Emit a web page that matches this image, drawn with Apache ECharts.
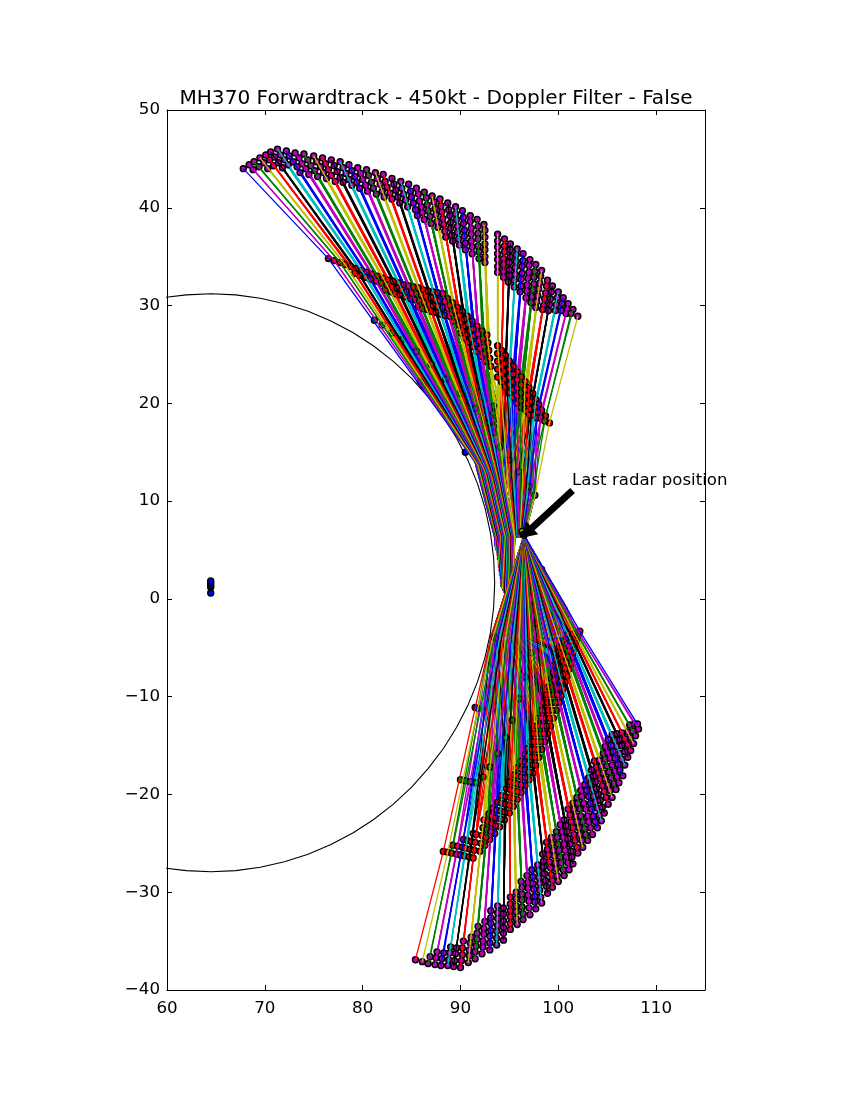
<!DOCTYPE html>
<html><head><meta charset="utf-8">
<style>html,body{margin:0;padding:0;background:#fff}#c{width:850px;height:1100px}</style>
<script src="https://cdn.jsdelivr.net/npm/echarts@6/dist/echarts.min.js"></script>
</head><body><div id="c"></div>
<script>
const chartTitle='MH370 Forwardtrack - 450kt - Doppler Filter - False';
const annotationText='Last radar position';
const annotationAt=[101.41,12.05];
const arrowTail=[101.46,11.09];
const arrowTip=[96.2,6.24];
const radarPoint=[96.5,6.5];
const xTicks=[60,115,10];
const yTicks=[-40,50,10];
const lineCycle=['#0000ff','#bf00bf','#008000','#bfbf00','#ff0000','#000000','#00bfbf'];
const rowShift=[0,-3,3,-6,6,-9,9,-12];

// Circle of equal satellite elevation
const circleLine=[[59.9,30.85],[61.97,31.09],[64.5,31.2],[67.03,31.09],[69.53,30.75],[72.01,30.19],[74.42,29.42],[76.76,28.43],[79,27.24],[81.13,25.86],[83.14,24.29],[85.01,22.55],[86.71,20.64],[88.26,18.6],[89.61,16.43],[90.78,14.14],[91.75,11.76],[92.51,9.3],[93.06,6.78],[93.39,4.23],[93.5,1.65],[93.39,-0.93],[93.06,-3.48],[92.51,-6],[91.75,-8.46],[90.78,-10.84],[89.61,-13.13],[88.26,-15.3],[86.71,-17.34],[85.01,-19.25],[83.14,-20.99],[81.13,-22.56],[79,-23.94],[76.76,-25.13],[74.42,-26.12],[72.01,-26.89],[69.53,-27.45],[67.03,-27.79],[64.5,-27.9],[61.97,-27.79],[59.9,-27.55]];

// Sub-satellite points
const satellitePoints=[64.47,0.6,64.47,1.2,64.47,1.4,64.47,1.65,64.47,1.84];

// North fan: per track, flat lon,lat pairs
const northRed=[76.5,34.8,77.1,34.6,77.7,34.4,78.2,34.2,78.8,34,79.3,33.8,79.9,33.6,80.4,33.4,81,33.2,81.5,33,82.1,32.8,82.6,32.6,83.1,32.5,83.7,32.3,84.2,32.1,84.7,32,85.2,31.9,85.7,31.8,86.2,31.6,86.7,31.5,87.2,31.4,87.7,31.3,88.2,31.2,88.7,30.7,89.2,30.3,89.7,29.8,90.2,29.4,90.7,28.9,91.2,28.4,91.7,27.9,92.2,27.4,92.7,27,93.8,25.9,94.2,25.4,94.6,24.9,95,24.3,95.4,23.8,95.8,23.2,96.2,22.7,96.6,22.2,97,21.6,97.4,21,97.7,20.4,98,19.9,98.3,19.3,98.7,18.7,99.1,18];
const northMid=[91.5,14,91.6,13.9,91.7,13.8,91.8,13.7,91.9,13.7,92,13.6,92.1,13.5,92.2,13.4,92.3,13.3,92.4,13.3,92.5,13.2,92.6,13.1,92.7,13,92.8,12.9,92.9,12.9,93,12.8,93.1,12.7,93.2,12.6,93.3,12.5,93.4,12.5,93.5,12.4,93.6,12.3,93.7,12.2,93.8,12.1,93.9,12.1,94,12,94.1,11.9,94.2,11.8,94.3,11.7,94.4,11.7,94.5,11.6,94.6,11.5,94.9,11.4,95.1,11.3,95.3,11.3,95.5,11.2,95.7,11.1,95.9,11.1,96.1,11,96.3,10.9,96.5,10.9,96.7,10.8,96.8,10.8,97,10.7,97.2,10.6,97.4,10.6,97.6,10.5];
const northWaistLon=[93.5,93.55,93.6,93.7,93.75,93.8,93.9,93.95,94,94.1,94.15,94.2,94.3,94.35,94.4,94.5,94.55,94.6,94.7,94.75,94.8,94.9,94.95,95,95.1,95.15,95.2,95.3,95.35,95.4,95.5,95.55,95.6,95.7,95.75,95.8,95.9,95.95,96,96.1,96.15,96.2,96.3,96.3,96.4,96.4,96.5];
const northWaistLat=6.3;
const northTail=[93.5,5.5,93.55,5.4,93.6,5.3,93.6,5.2,93.65,5.1,93.7,5,93.7,4.9,93.75,4.7,93.8,4.4,93.85,4,93.9,3.6,93.95,3.2,94,2.8,94.05,2.4,94.1,2,94.15,1.6,94.2,1.2,94.3,1,94.4,0.8,94.5,0.6,94.6,0.4,94.7,0.2,94.8,0,94.85,0,94.9,0,95,0,95.05,0,95.1,0,95.15,0,95.2,0,95.25,0,95.3,0];
const northWidths=[1.3,1.3,1.4,1.8,2,2.2,2.4,2.6,2.8,2.8,2.8,2.8,2.8,2.8,2.8,2.8,2.8,2.6,2.6,2.6,2.4,2.4,2.2,2.2,2,2,1.8,1.8,1.6,1.6,1.5,1.5,1.6,1.5,1.5,1.5,1.5,1.5,1.5,1.5,1.4,1.4,1.4,1.4,1.4,1.4,1.4];

// North magenta lattice, column after column, and points per column
const northMagenta=[67.8,44,68.4,44.4,68.8,43.9,68.9,44.7,69.4,44.2,69.5,45.1,69.9,44.6,70.3,44,70.1,45.4,70.5,44.9,70.9,44.3,70.6,45.7,71,45.2,71.4,44.6,71.8,44.1,71.3,46,71.6,45.4,72,44.9,72.4,44.4,72.2,45.8,72.5,45.3,72.9,44.7,73.3,44.2,73.6,43.6,73.1,45.6,73.5,45.1,73.8,44.5,74.2,44,74.5,43.4,74,45.5,74.4,44.9,74.7,44.3,75.1,43.8,75.4,43.2,75,45.3,75.3,44.7,75.7,44.2,76,43.6,76.3,43,75.9,45.1,76.2,44.5,76.5,43.9,76.8,43.3,77.2,42.7,76.8,44.9,77.1,44.3,77.4,43.7,77.7,43.1,78,42.6,77.7,44.7,78,44.1,78.3,43.5,78.6,42.9,78.9,42.3,78.6,44.4,78.9,43.8,79.2,43.2,79.4,42.6,79.7,42,79.5,44.1,79.8,43.5,80,42.9,80.3,42.3,80.5,41.7,80.4,43.9,80.6,43.3,80.9,42.6,81.1,42,81.4,41.4,81.3,43.6,81.5,43,81.8,42.4,82,41.7,82.2,41.1,82.1,43.4,82.3,42.7,82.5,42.1,82.8,41.5,83,40.9,83,43,83.2,42.4,83.4,41.8,83.6,41.1,83.8,40.5,83.9,42.7,84,42,84.2,41.4,84.4,40.8,84.6,40.1,84.7,42.4,84.9,41.7,85,41.1,85.2,40.5,85.4,39.8,85.6,39.2,85.5,42,85.7,41.4,85.8,40.7,86,40.1,86.1,39.5,86.3,38.8,86.3,41.6,86.5,41,86.6,40.3,86.7,39.7,86.9,39.1,87,38.4,87.1,41.2,87.3,40.6,87.4,39.9,87.5,39.3,87.6,38.6,87.7,38,87.9,40.9,88,40.2,88.1,39.6,88.2,38.9,88.3,38.3,88.4,37.6,88.5,37,88.7,40.5,88.8,39.8,88.9,39.2,89,38.5,89,37.9,89.1,37.2,89.2,36.6,89.5,40.1,89.5,39.4,89.6,38.8,89.7,38.1,89.7,37.5,89.8,36.8,89.9,36.2,90.2,39.7,90.3,39,90.3,38.4,90.4,37.7,90.4,37.1,90.5,36.4,90.5,35.7,91,39.2,91,38.6,91.1,37.9,91.1,37.3,91.1,36.6,91.2,36,91.2,35.3,91.7,38.8,91.8,38.1,91.8,37.4,91.8,36.8,91.8,36.1,91.9,35.5,91.9,34.8,92.4,38.3,92.5,37.7,92.5,37,92.5,36.3,92.5,35.7,92.5,35,92.5,34.4,93.8,37.3,93.8,36.6,93.8,36,93.8,35.3,93.8,34.7,93.8,34,93.8,33.4,94.5,36.8,94.5,36.1,94.5,35.5,94.4,34.8,94.4,34.2,94.4,33.5,94.4,32.9,95.1,36.3,95.1,35.7,95.1,35,95,34.4,95,33.7,95,33.1,94.9,32.4,95.8,35.8,95.7,35.2,95.7,34.5,95.6,33.9,95.6,33.2,95.5,32.6,95.5,31.9,96.4,35.3,96.4,34.6,96.3,34,96.3,33.3,96.2,32.7,96.2,32,96.1,31.4,97.1,34.7,97,34.1,97,33.4,96.9,32.8,96.8,32.1,96.8,31.5,96.7,30.8,97.7,34.2,97.6,33.5,97.5,32.9,97.5,32.2,97.4,31.6,97.3,30.9,97.2,30.3,98.3,33.6,98.2,33,98.1,32.3,98,31.7,97.9,31,97.8,30.4,97.7,29.8,98.9,32.6,98.8,32,98.7,31.3,98.6,30.7,98.5,30,98.4,29.6,99.4,32,99.3,31.4,99.2,30.7,99.1,30.1,99,29.5,100,31.4,99.9,30.8,99.8,30.1,99.7,29.5,100.5,30.8,100.4,30.2,100.3,29.5,101,30.2,100.9,29.6,100.8,29.2,101.5,29.6,101.3,29.2,102,28.9];
const northMagentaCounts=[1,2,2,3,3,4,4,5,5,5,5,5,5,5,5,5,5,5,5,5,5,6,6,6,6,7,7,7,7,7,7,7,7,7,7,7,7,7,7,7,6,5,4,3,3,2,1];
// North red lattice, rows behind the track waypoints, and points per column
const northRedRows=[79.2,33.3,79.7,33.1,80.3,32.9,80.8,32.7,81.4,32.5,81.9,32.3,82.3,31.6,82.5,32.1,82.9,31.4,83,31.9,83.3,31.2,83.5,31.8,83.8,31.1,84,31.6,84.4,30.9,84.5,31.4,84.9,30.7,85,31.3,85.4,30.6,85.7,29.9,85.5,31.2,85.8,30.5,86.1,29.7,86,31.1,86.3,30.3,86.6,29.6,86.5,30.9,86.8,30.1,87,29.4,87,30.8,87.2,30,87.5,29.3,87.5,30.6,87.7,29.9,88,29.1,87.9,30.5,88.2,29.8,88.4,29,88.4,30.4,88.7,29.7,88.9,28.9,88.9,30,89.1,29.2,89.3,28.4,89.4,29.5,89.6,28.8,89.8,28,90,27.2,89.9,29,90.1,28.3,90.2,27.5,90.4,26.7,90.4,28.6,90.5,27.9,90.7,27.1,90.8,26.3,90.8,28.1,91,27.4,91.1,26.6,91.3,25.8,91.3,27.6,91.4,26.9,91.6,26.1,91.7,25.3,91.8,27.1,91.9,26.4,92,25.6,92.1,24.8,92.3,26.6,92.4,25.8,92.5,25.1,92.6,24.3,92.8,26.2,92.9,25.4,93,24.6,93.1,23.8,93.8,25.1,93.8,24.3,93.8,23.5,93.8,22.7,94.2,24.6,94.2,23.8,94.2,23,94.2,22.2,94.6,24.1,94.6,23.3,94.6,22.5,94.6,21.7,95,23.5,95,22.7,95,21.9,95,21.1,95.4,23,95.4,22.2,95.4,21.4,95.4,20.6,95.8,22.4,95.8,21.6,95.8,20.8,95.8,20,96.2,21.9,96.2,21.1,96.2,20.3,96.2,19.6,96.6,21.4,96.6,20.6,96.6,19.8,96.6,19.4,96.9,20.8,96.9,20,96.8,19.2,97.3,20.2,97.2,19.4,97.1,18.8,97.6,19.6,97.5,18.8,97.9,19.1,97.8,18.5,98.2,18.5,98.6,18.2];
const northRedCounts=[0,0,0,0,1,1,1,1,1,2,2,2,2,2,2,3,3,3,3,3,3,3,3,3,4,4,4,4,4,4,4,4,4,4,4,4,4,4,4,4,3,3,2,2,1,1,0];

// South fan: per track from the west, flat lon,lat pairs
const southRed=[88.25,-25.83,88.7,-25.9,89.1,-26,89.6,-26.1,90,-26.2,90.4,-26.3,90.9,-26.4,91.3,-26.5,92,-25.8,92.5,-25.2,93,-24.6,93.5,-24,94,-23.3,94.5,-22.6,95,-21.9,95.4,-21.2,95.8,-20.5,96.2,-19.8,96.6,-19.1,97,-18.5,97.4,-17.8,97.7,-17,98,-16.2,98.3,-15.4,98.6,-14.6,98.9,-13.8,99.2,-13,99.5,-12.2,99.8,-11.4,100.1,-10.6,100.3,-9.9,100.5,-9.2,100.7,-8.5,100.9,-7.9,101.1,-7.2,101.3,-6.6,101.4,-6,101.5,-5.5,101.6,-5,101.7,-4.6,101.8,-4.3,101.9,-4,102,-3.7,102.1,-3.5,102.2,-3.3];
const southMid=[93.1,-4,93.3,-4,93.5,-4,93.7,-4,93.8,-4,94,-4,94.2,-4,94.4,-4,94.6,-4,94.8,-4,95,-4,95.2,-4,95.4,-4,95.6,-4,95.8,-4,96,-4,96.2,-4,96.4,-4,96.6,-4,96.7,-4,96.9,-4,97,-4,97.2,-4,97.4,-4,97.6,-4,97.8,-4,98,-4,98.2,-4,98.4,-4,98.7,-4,98.9,-4,99.2,-4,99.4,-4,99.7,-4,100,-4,99.25,-1,99.44,-1,99.6,-1,99.8,-1,100,-1,100.2,-1,100.36,-1,100.5,-1,100.7,-1,100.9,-1];
const southWidths=[1.4,1.4,1.4,1.4,1.4,1.4,1.4,1.4,1.4,1.4,1.4,1.4,1.4,1.4,1.4,1.5,1.5,1.5,1.6,1.6,1.8,1.8,1.8,2,2,2,2.2,2.2,2.4,2.6,2.6,2.6,2.8,2.8,2.8,2.8,2.8,2.8,2.6,2.4,2.2,2,1.8,1.5,1.4];

// South magenta lattice, column after column, and points per column
const southMagenta=[85.4,-36.9,86.1,-37.1,86.7,-37.3,86.9,-36.6,87.4,-37.4,87.5,-36.7,87.6,-36.1,88,-37.5,88.1,-36.8,88.3,-36.2,88.7,-37.5,88.8,-36.9,88.9,-36.2,89,-35.6,89.3,-37.6,89.4,-37,89.5,-36.3,89.6,-35.7,90,-37.7,90.1,-37,90.2,-36.4,90.2,-35.7,90.3,-35,90.8,-37.2,90.9,-36.5,90.9,-35.9,91,-35.2,91.1,-34.6,91.5,-36.8,91.5,-36.1,91.6,-35.5,91.7,-34.8,91.7,-34.2,91.8,-33.5,92.2,-36.3,92.3,-35.6,92.3,-35,92.4,-34.3,92.4,-33.7,92.5,-33,93,-35.9,93,-35.2,93,-34.5,93.1,-33.9,93.1,-33.2,93.1,-32.6,93.1,-31.9,93.7,-35.4,93.7,-34.7,93.7,-34,93.8,-33.4,93.8,-32.7,93.8,-32.1,93.8,-31.4,94.4,-34.9,94.4,-34.2,94.4,-33.6,94.4,-32.9,94.4,-32.2,94.4,-31.6,95.1,-33.8,95.1,-33.2,95.1,-32.5,95.1,-31.9,95.1,-31.2,95.1,-30.5,95.8,-33.3,95.7,-32.7,95.7,-32,95.7,-31.4,95.7,-30.7,95.7,-30,96.4,-32.8,96.4,-32.2,96.3,-31.5,96.3,-30.8,96.3,-30.2,96.3,-29.5,96.2,-28.9,97.1,-32.3,97,-31.6,97,-30.9,96.9,-30.3,96.9,-29.6,96.9,-29,96.8,-28.3,97.7,-31.7,97.6,-31,97.6,-30.4,97.5,-29.7,97.4,-29.1,97.4,-28.4,97.3,-27.7,98.3,-31.1,98.2,-30.5,98.1,-29.8,98.1,-29.1,98,-28.5,98,-27.8,97.9,-27.2,98.9,-30.1,98.8,-29.4,98.7,-28.8,98.6,-28.1,98.5,-27.4,98.5,-26.8,98.4,-26.1,99.4,-29.5,99.4,-28.8,99.3,-28.2,99.2,-27.5,99.1,-26.9,99,-26.2,98.9,-25.6,98.8,-24.9,100,-28.9,99.9,-28.3,99.8,-27.6,99.7,-27,99.6,-26.3,99.5,-25.7,99.4,-25,99.3,-24.4,100.6,-28.3,100.5,-27.7,100.3,-27,100.2,-26.4,100.1,-25.7,100,-25.1,99.9,-24.4,99.8,-23.8,101.1,-27.7,101,-27,100.8,-26.4,100.7,-25.7,100.6,-25.1,100.5,-24.4,100.4,-23.8,100.2,-23.1,101.5,-27.1,101.4,-26.4,101.3,-25.8,101.2,-25.1,101,-24.5,100.9,-23.8,100.8,-23.2,100.6,-22.6,102,-26,101.9,-25.4,101.7,-24.7,101.6,-24.1,101.5,-23.4,101.3,-22.8,101.2,-22.1,101,-21.5,102.5,-25.4,102.4,-24.7,102.2,-24.1,102.1,-23.4,101.9,-22.8,101.8,-22.2,101.6,-21.5,101.5,-20.9,103,-24.7,102.8,-24.1,102.7,-23.5,102.5,-22.8,102.3,-22.2,102.2,-21.5,102,-20.9,101.9,-20.3,103.5,-24.1,103.3,-23.4,103.1,-22.8,103,-22.2,102.8,-21.5,102.6,-20.9,102.4,-20.2,102.3,-19.6,104,-23.4,103.8,-22.8,103.6,-22.2,103.4,-21.5,103.3,-20.9,103.1,-20.2,102.9,-19.6,102.7,-19,104.4,-22.7,104.2,-22.1,104,-21.4,103.8,-20.8,103.6,-20.2,103.5,-19.5,103.3,-18.9,103.1,-18.3,104.7,-21.9,104.5,-21.3,104.3,-20.6,104.1,-20,103.9,-19.4,103.8,-18.7,103.6,-18.1,103.4,-17.5,105.1,-21,104.9,-20.3,104.7,-19.7,104.5,-19.1,104.3,-18.4,104.1,-17.8,103.9,-17.2,103.7,-16.6,105.5,-20.3,105.3,-19.6,105.1,-19,104.8,-18.4,104.6,-17.8,104.4,-17.1,104.2,-16.5,105.9,-19.5,105.7,-18.9,105.4,-18.3,105.2,-17.7,105,-17.1,104.8,-16.4,104.6,-15.8,106.2,-18.8,106,-18.2,105.8,-17.6,105.5,-17,105.3,-16.3,105.1,-15.7,104.8,-15.1,106.6,-18.1,106.3,-17.5,106.1,-16.9,105.8,-16.3,105.6,-15.6,105.4,-15,105.1,-14.4,106.8,-17,106.5,-16.4,106.3,-15.8,106,-15.1,105.8,-14.5,105.5,-13.9,107.1,-16.2,106.8,-15.6,106.5,-15,106.3,-14.4,106,-13.8,107.4,-15.5,107.1,-14.9,106.8,-14.3,106.5,-13.7,107.7,-14.8,107.4,-14.2,107.1,-13.6,107.9,-14,107.6,-13.5,107.3,-12.9,108.2,-13.3,107.8,-12.8,108.1,-12.8];
const southMagentaCounts=[1,1,2,3,3,4,4,5,5,6,6,7,7,6,6,6,7,7,7,7,7,8,8,8,8,8,8,8,8,8,8,8,8,8,7,7,7,7,6,5,4,3,3,2,1];
// South red lattice, rows behind the track waypoints, and points per column
const southRedRows=[89.2,-25.2,89.7,-25.3,90.2,-25.4,90.3,-24.6,90.5,-25.5,90.7,-24.7,91,-25.6,91.1,-24.8,91.3,-24,91.4,-25.7,91.5,-24.9,91.6,-24.1,92.1,-25,92.2,-24.2,92.3,-23.4,92.4,-22.6,92.6,-24.4,92.7,-23.6,92.8,-22.8,92.9,-22,93.1,-23.8,93.2,-23,93.2,-22.2,93.3,-21.4,93.6,-23.2,93.6,-22.4,93.7,-21.6,93.8,-20.8,94.1,-22.5,94.1,-21.7,94.2,-20.9,94.2,-20.1,94.5,-21.8,94.6,-21,94.6,-20.2,94.7,-19.4,95,-21.1,95.1,-20.3,95.1,-19.5,95.1,-18.7,95.4,-20.4,95.4,-19.6,95.5,-18.8,95.5,-18,95.8,-19.7,95.8,-18.9,95.8,-18.1,95.8,-17.3,96.2,-19,96.2,-18.2,96.2,-17.4,96.2,-16.6,96.6,-18.3,96.6,-17.5,96.6,-16.7,96.6,-15.9,97,-17.7,96.9,-16.9,96.9,-16.1,96.9,-15.3,97.4,-17,97.3,-16.2,97.3,-15.4,97.2,-14.6,97.6,-16.2,97.6,-15.4,97.5,-14.6,97.5,-13.8,97.9,-15.4,97.9,-14.6,97.8,-13.8,97.8,-13,98.2,-14.6,98.2,-13.8,98.1,-13,98,-12.2,98.5,-13.8,98.4,-13,98.3,-12.2,98.3,-11.4,98.8,-13,98.7,-12.2,98.6,-11.4,98.5,-10.6,99.1,-12.2,99,-11.4,98.9,-10.6,98.8,-9.8,99.4,-11.4,99.3,-10.6,99.1,-9.8,99,-9,99.7,-10.6,99.5,-9.8,99.4,-9,99.3,-8.2,99.9,-9.8,99.8,-9,99.6,-8.3,99.5,-7.5,100.1,-9.1,100,-8.3,99.8,-7.6,99.6,-6.8,100.3,-8.4,100.2,-7.7,100,-6.9,99.8,-6.2,100.5,-7.7,100.3,-7,100.1,-6.2,99.9,-5.5,100.7,-7.1,100.5,-6.4,100.3,-5.6,100.1,-4.9,100.8,-6.5,100.6,-5.8,100.4,-5,101,-5.9,100.8,-5.1,100.6,-4.4,101.1,-5.3,100.9,-4.6,101.2,-4.8,101,-4,101.3,-4.3,101,-3.6,101.4,-3.9,101.5,-3.6];
const southRedCounts=[0,0,1,1,2,2,3,3,4,4,4,4,4,4,4,4,4,4,4,4,4,4,4,4,4,4,4,4,4,4,4,4,4,4,3,3,2,2,2,1,1,0,0,0,0];

// Inner arcs
const greenArc=[81.2,28.5,82,28,83,27.2,84,26.5,85.5,25.3,87,24,88.5,22.5,90,21,91.5,19.5,92.8,18,93.4,19.7,93.4,19,93.4,18.3,93.4,17.6,93.4,17,94,15.5,95,14.2,96,13,97,11.5,97.6,10.6,90,-18.5,90.5,-18.6,91,-18.7,91.6,-18.8,92.3,-18.2,93,-17.2,93.8,-15.8,94.6,-14.2,95.3,-12.4,96,-10.2,96.6,-8,97.2,-5.5,97.7,-2.5,98.1,1.5,98.2,2.5,98.3,3];
const innerArc=[85.9,22.2,86.2,21.8,88.4,19,90.5,15,91.5,-11.1,91.8,-11.2,93.4,-3.9,93.6,-4];
const radarMarks=[96.3,6.9,96.4,6.6,96.5,6.5];

function pairs(a){const o=[];for(let i=0;i<a.length;i+=2)o.push([a[i],a[i+1]]);return o;}
function columns(list,counts){const p=pairs(list);let n=0;return counts.map(c=>{const col=p.slice(n,n+c);n+=c;return col;});}
function scatter(data,color,z){return {type:'scatter',z:z||2,data:pairs(data),symbolSize:5.9,silent:true,itemStyle:{color:color,borderColor:'#000',borderWidth:1.5,opacity:1},animation:false};}
function track(points,color,width,z){return {type:'line',z:z,data:points,showSymbol:false,symbol:'none',silent:true,lineStyle:{color:color,width:width},animation:false};}
const clampIdx=(i,n)=>Math.max(0,Math.min(n-1,i));

const series=[];
series.push({type:'line',z:1,data:circleLine,showSymbol:false,symbol:'none',silent:true,lineStyle:{color:'#000',width:1.1},animation:false});

const nMag=columns(northMagenta,northMagentaCounts),nRedTop=pairs(northRed),nRedCol=columns(northRedRows,northRedCounts);
const nM=pairs(northMid),nT=pairs(northTail);
function northTrack(i,k,width,z){
  const rc=[nRedTop[i]].concat(nRedCol[i]);
  const m=clampIdx(i+rowShift[k],nM.length);
  const pts=[nMag[i][k],rc[Math.min(k,rc.length-1)],nM[m],[northWaistLon[m],northWaistLat]];
  pts.push(m<nT.length?nT[m]:radarPoint);
  const c=lineCycle[(i<32?i:i+6)%7];
  return track(pts,c,width,z);
}
const sMag=columns(southMagenta,southMagentaCounts),sRedTop=pairs(southRed),sRedCol=columns(southRedRows,southRedCounts);
const sM=pairs(southMid);
function southTrack(j,k,width,z){
  const rc=[sRedTop[j]].concat(sRedCol[j]);
  const m=clampIdx(j+rowShift[k],sM.length);
  const c=lineCycle[(j<25?46-j:44-j)%7];
  return track([sMag[j][k],rc[Math.min(k,rc.length-1)],sM[m],radarPoint],c,width,z);
}
// Tracks from the lower lattice rows lie under the marks
nMag.forEach((col,i)=>{for(let k=col.length-1;k>=1;k--)series.push(northTrack(i,k,k===1?northWidths[i]:1.2,1));});
sMag.forEach((col,j)=>{for(let k=col.length-1;k>=1;k--)series.push(southTrack(j,k,k===1?southWidths[j]:1.2,1));});

series.push(scatter(satellitePoints,'#0000ff'));
series.push(scatter(northMagenta,'#bf00bf'));
series.push(scatter(southMagenta,'#bf00bf'));
series.push(scatter(greenArc,'#008000'));
series.push(scatter(innerArc,'#0000ff'));
series.push(scatter(northRed,'#ff0000'));
series.push(scatter(northRedRows,'#ff0000'));
series.push(scatter(southRed,'#ff0000'));
series.push(scatter(southRedRows,'#ff0000'));

// Front tracks from the outer edge
nMag.forEach((col,i)=>series.push(northTrack(i,0,1.3,3)));
sMag.forEach((col,j)=>series.push(southTrack(j,0,1.3,3)));
series.push(scatter(radarMarks,'#bfbf00',3.5));

// Annotation arrow and text
series.push({type:'custom',z:4,silent:true,animation:false,clip:false,data:[[arrowTail[0],arrowTail[1],arrowTip[0],arrowTip[1]]],
  renderItem:function(params,api){
    const t=api.coord([api.value(0),api.value(1)]),h=api.coord([api.value(2),api.value(3)]);
    const dx=h[0]-t[0],dy=h[1]-t[1],L=Math.hypot(dx,dy),ux=dx/L,uy=dy/L,nx=-uy,ny=ux;
    const sw=3.5,hw=9,hl=15,bx=h[0]-ux*hl,by=h[1]-uy*hl;
    return {type:'polygon',shape:{points:[[t[0]+nx*sw,t[1]+ny*sw],[bx+nx*sw,by+ny*sw],[bx+nx*hw,by+ny*hw],h,[bx-nx*hw,by-ny*hw],[bx-nx*sw,by-ny*sw],[t[0]-nx*sw,t[1]-ny*sw]]},style:{fill:'#000'}};
  }});
series.push({type:'scatter',z:5,data:[annotationAt],symbolSize:0,silent:true,animation:false,itemStyle:{opacity:1},
  label:{show:true,position:'right',distance:0,formatter:annotationText,color:'#000',opacity:1,fontFamily:'DejaVu Sans',fontSize:16.6}});

const minus=v=>String(v).replace('-','\u2212');
const xBase={type:'value',min:xTicks[0],max:xTicks[1],interval:xTicks[2],splitLine:{show:false},axisLine:{onZero:false,lineStyle:{color:'#000',width:1}},axisTick:{show:true,inside:true,length:5,lineStyle:{color:'#000',width:1}}};
const yBase={type:'value',min:yTicks[0],max:yTicks[1],interval:yTicks[2],splitLine:{show:false},axisLine:{onZero:false,lineStyle:{color:'#000',width:1}},axisTick:{show:true,inside:true,length:5,lineStyle:{color:'#000',width:1}}};
const lab={color:'#000',fontFamily:'DejaVu Sans',fontSize:16.7,margin:8};

const chart=echarts.init(document.getElementById('c'),null,{renderer:'canvas',width:850,height:1100});
chart.setOption({
  animation:false,backgroundColor:'#fff',
  title:{text:chartTitle,left:431,top:84,textAlign:'center',textStyle:{color:'#000',fontFamily:'DejaVu Sans',fontSize:20.1,fontWeight:'normal'}},
  grid:{left:167,top:110,width:538,height:880,containLabel:false},
  xAxis:[Object.assign({},xBase,{position:'bottom',axisLabel:Object.assign({},lab,{margin:10,showMaxLabel:false,showMinLabel:true,formatter:minus})}),Object.assign({},xBase,{position:'top',axisLabel:{show:false}})],
  yAxis:[Object.assign({},yBase,{position:'left',axisLabel:Object.assign({},lab,{margin:7,showMaxLabel:true,showMinLabel:true,formatter:minus})}),Object.assign({},yBase,{position:'right',axisLabel:{show:false}})],
  series:series
});
</script></body></html>
